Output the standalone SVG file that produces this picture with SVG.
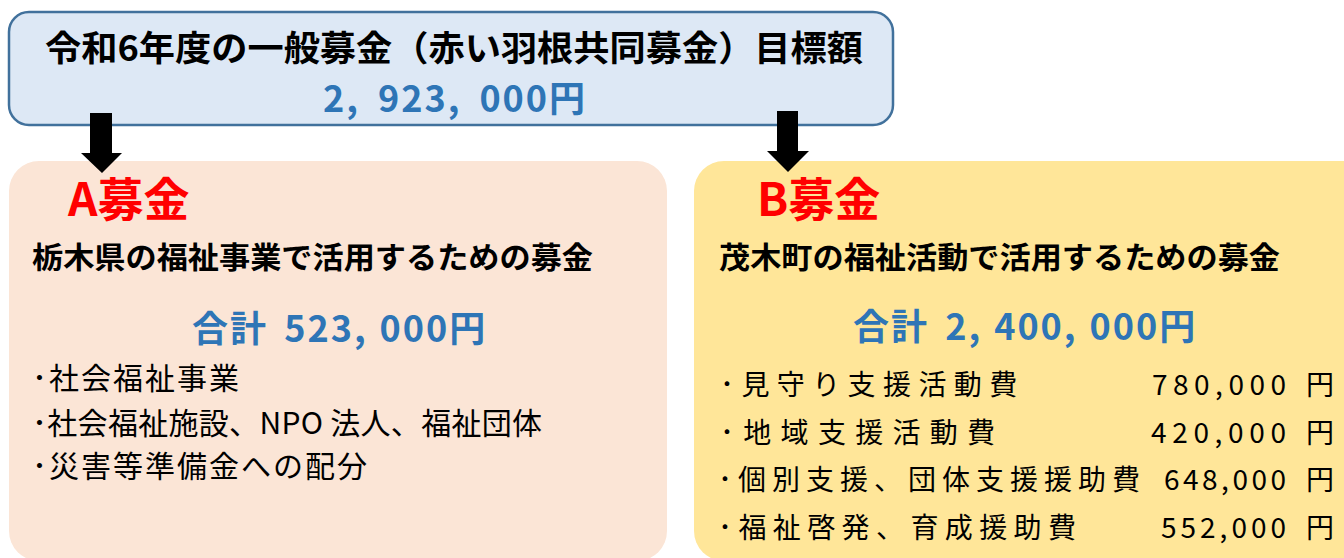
<svg xmlns="http://www.w3.org/2000/svg" width="1344" height="558" viewBox="0 0 1344 558">
<style>
text{font-family:"Noto Sans CJK JP","Noto Sans",sans-serif;}
.b{font-weight:bold;fill:#000;}
.blue{font-weight:bold;fill:#2e75b6;font-size:36px;letter-spacing:2px;}
.red{font-weight:bold;fill:#ff0000;font-size:46px;}
.item{fill:#000;font-size:30px;}
.row{fill:#000;font-size:28px;}
.arrow{fill:#000;}
</style>
<rect width="1344" height="558" fill="#ffffff"/>
<g id="boxA">
<rect x="9" y="161" width="658" height="400" rx="30" ry="30" fill="#fbe5d6"/>
<text class="red" x="68" y="216">A募金</text>
<text class="b" x="32" y="268" font-size="30" textLength="561" lengthAdjust="spacingAndGlyphs">栃木県の福祉事業で活用するための募金</text>
<text class="blue" x="192" y="342">合計 <tspan dx="6">523,</tspan><tspan dx="12">000円</tspan></text>
<text class="item" x="32" y="389" letter-spacing="2">･社会福祉事業</text>
<text class="item" x="32" y="434" letter-spacing="0.3">･社会福祉施設、NPO 法人、福祉団体</text>
<text class="item" x="32" y="477" letter-spacing="2">･災害等準備金への配分</text>
</g>
<g id="boxB">
<rect x="694" y="161" width="680" height="400" rx="30" ry="30" fill="#ffe699"/>
<text class="red" x="757" y="216">B募金</text>
<text class="b" x="719" y="268" font-size="30" textLength="561" lengthAdjust="spacingAndGlyphs">茂木町の福祉活動で活用するための募金</text>
<text class="blue" x="853" y="340" letter-spacing="2.8">合計 <tspan dx="6">2,</tspan><tspan dx="12">400,</tspan><tspan dx="12">000円</tspan></text>
<text class="row" x="720" y="395" letter-spacing="7.4">･見守り支援活動費</text>
<text class="row" x="1152" y="395" textLength="134" lengthAdjust="spacing">780,000</text>
<text class="row" x="1306" y="395">円</text>
<text class="row" x="720" y="443" letter-spacing="9.3">･地域支援活動費</text>
<text class="row" x="1151" y="443" textLength="135" lengthAdjust="spacing">420,000</text>
<text class="row" x="1306" y="443">円</text>
<text class="row" x="718" y="490" letter-spacing="6">･個別支援、団体支援援助費</text>
<text class="row" x="1164" y="490" textLength="122" lengthAdjust="spacing">648,000</text>
<text class="row" x="1306" y="490">円</text>
<text class="row" x="718" y="538" letter-spacing="6.4">･福祉啓発、育成援助費</text>
<text class="row" x="1161" y="538" textLength="125" lengthAdjust="spacing">552,000</text>
<text class="row" x="1306" y="538">円</text>
</g>
<g id="top">
<rect x="9" y="12" width="884" height="113" rx="20" ry="20" fill="#dde8f5" stroke="#41719c" stroke-width="2.5"/>
<text class="b" x="45" y="61" font-size="35" textLength="818" lengthAdjust="spacingAndGlyphs">令和6年度の一般募金（赤い羽根共同募金）目標額</text>
<text class="blue" x="323" y="112"><tspan>2,</tspan><tspan dx="18">923,</tspan><tspan dx="18">000円</tspan></text>
</g>
<g id="connectors">
<path class="arrow" d="M90,113 H112 V153 H122 L102,173 L81,153 H90 Z"/>
<path class="arrow" d="M777,111 H798 V151 H809 L788,172 L767,151 H777 Z"/>
</g>
</svg>
